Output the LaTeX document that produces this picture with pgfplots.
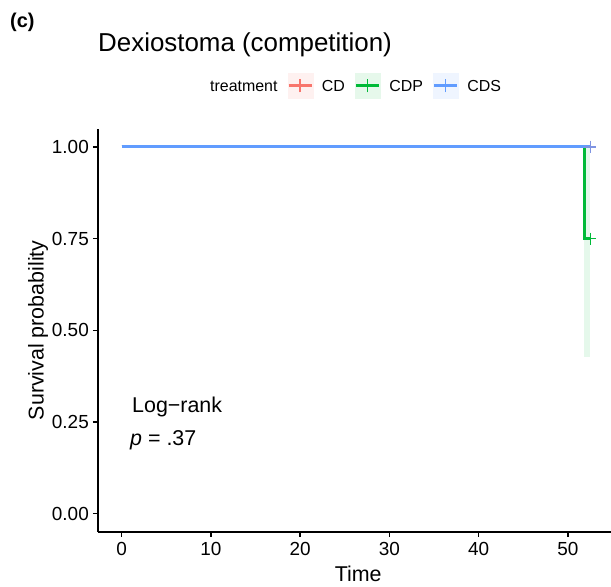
\documentclass[border=0pt]{standalone}
\usepackage{fontspec}
\setmainfont{Liberation Sans}
\usepackage{pgfplots}
\pgfplotsset{compat=1.18}

\definecolor{cdred}{HTML}{F8766D}
\definecolor{cdpgreen}{HTML}{00BA38}
\definecolor{cdsblue}{HTML}{619CFF}
\definecolor{cdfill}{HTML}{FEF1F0}
\definecolor{cdpfill}{HTML}{E6F8EB}
\definecolor{cdsfill}{HTML}{EFF5FF}

% legend key: pale box, coloured line, small vertical tick (the censor +)
\pgfplotsset{
  kmkey/.style 2 args={legend image code/.code={
      \fill[#2] (0bp,-7bp) rectangle (25bp,18bp);
      \draw[#1, line width=3bp] (1bp,5.5bp) -- (24bp,5.5bp);
      \draw[#1, line width=1.5bp] (12.5bp,-1bp) -- (12.5bp,12bp);
      \path (-10bp,0bp) (34bp,0bp);
  }},
}

\begin{document}
\begin{tikzpicture}
\useasboundingbox (0,0) rectangle (611bp,587bp);
\begin{axis}[
  at={(98bp,55bp)}, anchor=south west,
  scale only axis, width=520.4bp, height=403.4bp,
  xmin=-2.65, xmax=55.65, ymin=-0.05, ymax=1.05,
  axis x line*=bottom, axis y line*=left,
  axis line style={line width=1.8bp, black, -},
  tick align=outside, major tick length=5bp,
  tick style={line width=1.5bp, black},
  xtick={0,10,...,50}, ytick={0,0.25,0.5,0.75,1},
  /pgf/number format/assume math mode=true,
  yticklabel style={/pgf/number format/.cd, fixed, fixed zerofill, precision=2,
    /tikz/.cd, font=\fontsize{19}{19}\selectfont, inner sep=0pt, xshift=-4bp},
  xticklabel style={font=\fontsize{19}{19}\selectfont, inner sep=0pt, yshift=-5bp},
  xlabel={Time},
  xlabel style={at={(axis description cs:0.5,0)}, anchor=base, yshift=-49bp,
    inner sep=0pt, font=\fontsize{21.5}{21.5}\selectfont},
  ylabel={Survival probability},
  ylabel style={at={(axis description cs:0,0.5)}, anchor=center, yshift=60bp,
    inner sep=0pt, font=\fontsize{21.5}{21.5}\selectfont},
  legend columns=-1,
  legend style={at={(0.2152,1.1056)}, anchor=west, draw=none, fill=none,
    inner sep=0pt, cells={anchor=base west},
    nodes={inner sep=0pt, text depth=0pt}, font=\fontsize{16}{16}\selectfont},
]
% confidence band of CDP after its single event
\addplot[draw=none, fill=cdpgreen, fill opacity=0.1, forget plot]
  coordinates {(51.8,0.428) (52.5,0.428) (52.5,1.0) (51.8,1.0)} -- cycle;

\addlegendimage{empty legend}
\addlegendentry{treatment}
\addlegendimage{kmkey={cdred}{cdfill}}
\addlegendentry{CD}
\addlegendimage{kmkey={cdpgreen}{cdpfill}}
\addlegendentry{CDP}
\addlegendimage{kmkey={cdsblue}{cdsfill}}
\addlegendentry{CDS}

% survival curves
\addplot[cdred, line width=3bp, forget plot] coordinates {(0,1) (52.5,1)};
\addplot[cdpgreen, line width=3bp, forget plot]
  coordinates {(0,1) (51.8,1) (51.8,0.75) (52.5,0.75)};
\addplot[cdsblue, line width=3bp, forget plot] coordinates {(0,1) (52.5,1)};

% censoring marks
\addplot[only marks, mark=+, mark size=6bp, cdred, mark options={line width=1.5bp}, forget plot]
  coordinates {(52.5,1)};
\addplot[only marks, mark=+, mark size=6bp, cdpgreen, mark options={line width=1.5bp}, forget plot]
  coordinates {(52.5,0.75) (52.5,1)};
\addplot[only marks, mark=+, mark size=6bp, cdsblue!80!cdred, mark options={line width=1.5bp}, forget plot]
  coordinates {(52.5,1)};
\end{axis}

\node[anchor=base west, inner sep=0pt, font=\fontsize{20}{20}\selectfont\bfseries]
  at (10bp,559bp) {(c)};
\node[anchor=base west, inner sep=0pt, font=\fontsize{26}{26}\selectfont]
  at (98bp,535bp) {Dexiostoma (competition)};
\node[anchor=base west, inner sep=0pt, font=\fontsize{21.5}{21.5}\selectfont]
  at (132bp,174bp) {Log−rank};
\node[anchor=base west, inner sep=0pt, font=\fontsize{21.5}{21.5}\selectfont]
  at (130bp,141bp) {\textit{p} = .37};
\end{tikzpicture}
\end{document}
